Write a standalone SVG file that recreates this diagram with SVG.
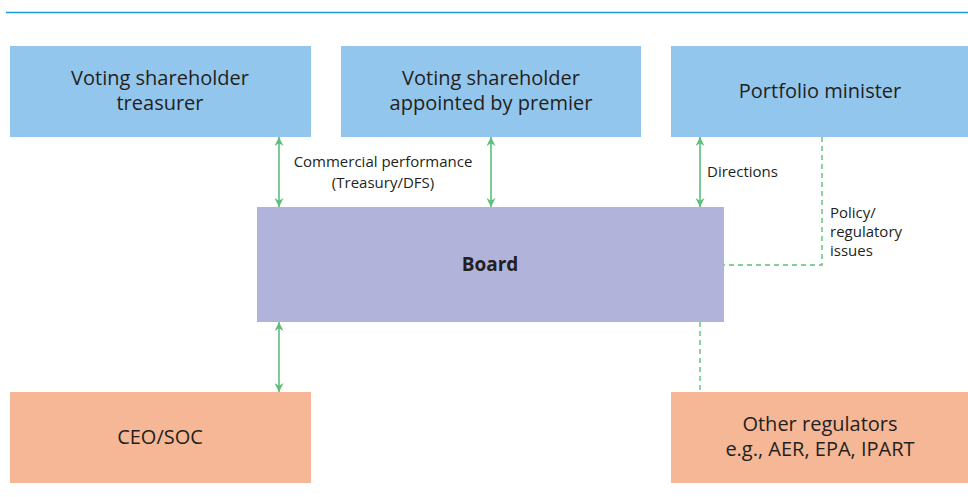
<svg xmlns="http://www.w3.org/2000/svg" width="968" height="497" viewBox="0 0 968 497">
  <style>
    .blue { fill: #93c6ec; }
    .board { fill: #b1b3da; }
    .orange { fill: #f6b796; }
    .t { font-family: "Open Sans", "Noto Sans", sans-serif; fill: #231f20; text-anchor: middle; }
    .big { font-size: 20px; }
    .small { font-size: 15px; }
    .left { text-anchor: start; }
    .solid { stroke: #5dbf7a; stroke-width: 1.6; fill: none; marker-start: url(#ah); marker-end: url(#ah); }
    .dash { stroke: #5dbf7a; stroke-width: 1.4; fill: none; stroke-dasharray: 5 4; }
  </style>
  <defs>
    <marker id="ah" viewBox="0 0 10 10" refX="10" refY="5" markerWidth="10" markerHeight="9" markerUnits="userSpaceOnUse" orient="auto-start-reverse">
      <path d="M0,0 L10,5 L0,10 L3,5 Z" fill="#5dbf7a"/>
    </marker>
  </defs>
  <rect width="968" height="497" fill="#ffffff"/>
  <line x1="6" y1="12.5" x2="968" y2="12.5" stroke="#1a9bd7" stroke-width="1.5"/>

  <g id="treasurer">
    <rect class="blue" x="10" y="46" width="301" height="91"/>
    <text class="t big" x="160" y="85">Voting shareholder</text>
    <text class="t big" x="160" y="110">treasurer</text>
  </g>
  <g id="premier">
    <rect class="blue" x="341" y="46" width="300" height="91"/>
    <text class="t big" x="491" y="85">Voting shareholder</text>
    <text class="t big" x="491" y="110">appointed by premier</text>
  </g>
  <g id="minister">
    <rect class="blue" x="671" y="46" width="297" height="91"/>
    <text class="t big" x="820" y="98">Portfolio minister</text>
  </g>
  <g id="board">
    <rect class="board" x="257" y="207" width="467" height="115"/>
    <text class="t" x="490" y="271" font-size="19" font-weight="bold">Board</text>
  </g>
  <g id="ceo">
    <rect class="orange" x="10" y="392" width="301" height="91"/>
    <text class="t big" x="160" y="444">CEO/SOC</text>
  </g>
  <g id="regulators">
    <rect class="orange" x="671" y="392" width="297" height="91"/>
    <text class="t big" x="820" y="431">Other regulators</text>
    <text class="t big" x="820" y="456">e.g., AER, EPA, IPART</text>
  </g>

  <g id="connectors">
    <line class="solid" x1="279" y1="137" x2="279" y2="207"/>
    <line class="solid" x1="491" y1="137" x2="491" y2="207"/>
    <line class="solid" x1="700" y1="137" x2="700" y2="207"/>
    <line class="solid" x1="279" y1="322" x2="279" y2="392"/>
    <polyline class="dash" points="822,137 822,265 724,265"/>
    <line class="dash" x1="700" y1="322" x2="700" y2="392"/>
    <text class="t small" x="383" y="167">Commercial performance</text>
    <text class="t small" x="383" y="188">(Treasury/DFS)</text>
    <text class="t small left" x="707" y="177">Directions</text>
    <text class="t small left" x="830" y="218">Policy/</text>
    <text class="t small left" x="830" y="237">regulatory</text>
    <text class="t small left" x="830" y="256">issues</text>
  </g>
</svg>
